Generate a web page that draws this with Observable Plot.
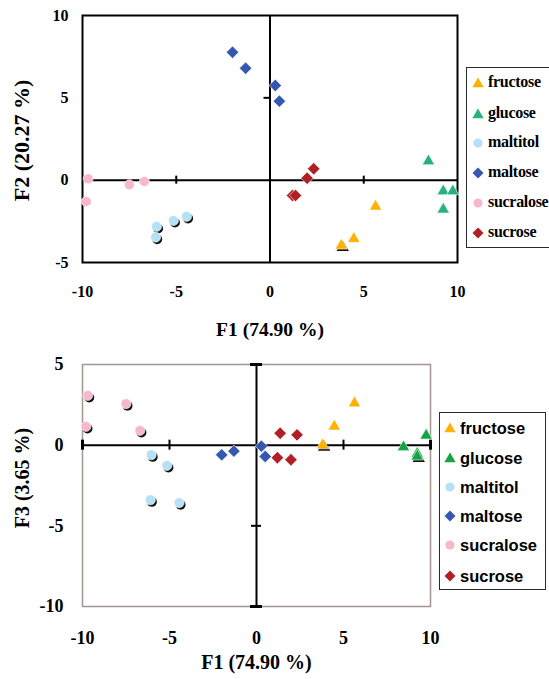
<!DOCTYPE html>
<html><head><meta charset="utf-8">
<script src="https://cdn.jsdelivr.net/npm/d3@7"></script>
<script src="https://cdn.jsdelivr.net/npm/@observablehq/plot@0.6"></script>
<style>
html,body{margin:0;padding:0;background:#fff;overflow:hidden;}
#wrap{position:relative;width:549px;height:679px;overflow:hidden;background:#fff;}
.chart{position:absolute;left:0;}
.legend{position:absolute;background:#fff;box-sizing:border-box;}
.legend .item{position:absolute;white-space:nowrap;height:20px;line-height:20px;}
.legend svg{position:absolute;overflow:visible;}
</style></head><body><div id="wrap"></div>
<script>
// ---- data ----
const sugars = ["fructose", "glucose", "maltitol", "maltose", "sucralose", "sucrose"];
const colorsTop = ["#ffb100", "#27b27a", "#b5e0f6", "#3557b0", "#f5b8cc", "#b01f25"];
const colorsBottom = ["#ffb100", "#15a347", "#b5e0f6", "#3557b0", "#f5b8cc", "#b01f25"];
const symbols = ["triangle", "triangle", "circle", "diamond2", "circle", "diamond2"];

const pointSugar = [
  "fructose", "fructose", "fructose",
  "glucose", "glucose", "glucose", "glucose",
  "maltitol", "maltitol", "maltitol", "maltitol",
  "maltose", "maltose", "maltose", "maltose",
  "sucralose", "sucralose", "sucralose", "sucralose",
  "sucrose", "sucrose", "sucrose", "sucrose"
];
const F1 = [3.8, 4.47, 5.63,  8.45, 9.24, 9.75, 9.24,  -6.05, -6.1, -5.15, -4.45,  -2.0, -1.3, 0.28, 0.5,  -9.7, -9.8, -7.5, -6.7,  2.33, 1.98, 1.2, 1.36];
const F2 = [-3.97, -3.56, -1.6,  1.15, -0.67, -0.67, -1.78,  -2.81, -3.46, -2.45, -2.2,  7.77, 6.8, 5.75, 4.8,  0.08, -1.3, -0.28, -0.08,  0.69, 0.12, -0.93, -0.93];
const F3 = [0.0, 1.16, 2.6,  -0.12, -0.53, 0.6, -0.7,  -0.6, -3.39, -1.26, -3.57,  -0.6, -0.37, -0.06, -0.7,  3.08, 1.16, 2.57, 0.91,  0.64, -0.9, -0.78, 0.74];
// points drawn with a dark duplicate underneath
const shadowTop    = [1,0,0, 0,0,0,0, 1,1,1,1, 0,0,0,0, 0,0,0,0, 0,0,0,0];
const shadowBottom = [1,0,0, 0,0,0,1, 1,1,1,1, 0,0,0,0, 1,1,1,1, 0,0,0,0];

const xTicks = [-10, -5, 0, 5, 10];
const yTicksTop = [-5, 0, 5, 10];
const yTicksBottom = [-10, -5, 0, 5];
const xLabel = "F1 (74.90 %)";
const yLabelTop = "F2 (20.27 %)";
const yLabelBottom = "F3 (3.65 %)";

// ---- build ----
const points = pointSugar.map((s, i) => ({sugar: s, f1: F1[i], f2: F2[i], f3: F3[i], shT: shadowTop[i], shB: shadowBottom[i]}));
const rSym = {triangle: 4.6, circle: 5, diamond2: 5.6};
const serif = "'Liberation Serif', 'Times New Roman', serif";
const sans = "'Liberation Sans', Arial, sans-serif";
const fmt = d => String(d);

function dots(yKey, colors, shKey) {
  const marks = [];
  sugars.forEach((s, k) => {
    const sub = points.filter(p => p.sugar === s && p[shKey]);
    if (sub.length) marks.push(Plot.dot(sub, {x: "f1", y: yKey, symbol: symbols[k], r: rSym[symbols[k]], fill: "#111", dx: 1.5, dy: 2}));
  });
  sugars.forEach((s, k) => {
    marks.push(Plot.dot(points.filter(p => p.sugar === s), {x: "f1", y: yKey, symbol: symbols[k], r: rSym[symbols[k]], fill: colors[k], stroke: "white", strokeWidth: 0.6}));
  });
  return marks;
}

const wrap = document.getElementById("wrap");

const topPlot = Plot.plot({
  width: 549, height: 340,
  marginLeft: 82, marginRight: 92, marginTop: 15, marginBottom: 78,
  x: {domain: [-10, 10]}, y: {domain: [-5, 10]},
  style: {fontFamily: serif, fontWeight: "bold", color: "black", background: "transparent", overflow: "visible"},
  marks: [
    Plot.ruleX([0], {stroke: "black", strokeWidth: 2}),
    Plot.ruleY([0], {stroke: "black", strokeWidth: 2}),
    Plot.ruleX([-5, 5], {y1: 0, y2: 0, insetTop: -4, insetBottom: -4, stroke: "black", strokeWidth: 2}),
    Plot.ruleY([5], {x1: 0, x2: 0, insetLeft: -6, stroke: "black", strokeWidth: 2}),
    Plot.frame({stroke: "black", strokeWidth: 2}),
    Plot.axisX(xTicks, {tickSize: 0, tickPadding: 23, fontSize: 16, label: null, tickFormat: fmt}),
    Plot.axisY(yTicksTop, {tickSize: 0, tickPadding: 14, fontSize: 16, label: null, tickFormat: fmt}),
    Plot.text([xLabel], {frameAnchor: "bottom", dy: 73, fontSize: 19.5, fontWeight: "bold", textAnchor: "middle"}),
    Plot.text([yLabelTop], {frameAnchor: "left", dx: -61, dy: 1.5, rotate: -90, fontSize: 22, fontWeight: "bold", textAnchor: "middle"}),
    ...dots("f2", colorsTop, "shT")
  ]
});
topPlot.classList.add("chart");
topPlot.style.top = "0px";
wrap.appendChild(topPlot);

const botPlot = Plot.plot({
  width: 549, height: 329,
  marginLeft: 82, marginRight: 119, marginTop: 14, marginBottom: 73,
  x: {domain: [-10, 10]}, y: {domain: [-10, 5]},
  style: {fontFamily: serif, fontWeight: "bold", color: "black", background: "transparent", overflow: "visible"},
  marks: [
    Plot.frame({stroke: "#a39593", strokeWidth: 1.5}),
    Plot.ruleX([0], {stroke: "black", strokeWidth: 2}),
    Plot.ruleY([0], {stroke: "black", strokeWidth: 2}),
    Plot.ruleY([5, -10], {x1: 0, x2: 0, insetLeft: -6, insetRight: -6, stroke: "black", strokeWidth: 3}),
    Plot.ruleY([-5], {x1: 0, x2: 0, insetLeft: -5, insetRight: -5, stroke: "black", strokeWidth: 2}),
    Plot.ruleX([-10, 10], {y1: 0, y2: 0, insetTop: -5, insetBottom: -5, stroke: "black", strokeWidth: 3}),
    Plot.ruleX([-5, 5], {y1: 0, y2: 0, insetTop: -5, insetBottom: -5, stroke: "black", strokeWidth: 2}),
    Plot.axisX(xTicks, {tickSize: 0, tickPadding: 25, fontSize: 18, label: null, tickFormat: fmt}),
    Plot.axisY(yTicksBottom, {tickSize: 0, tickPadding: 19, fontSize: 18, label: null, tickFormat: fmt}),
    Plot.text([xLabel], {frameAnchor: "bottom", dy: 62, fontSize: 20, fontWeight: "bold", textAnchor: "middle"}),
    Plot.text([yLabelBottom], {frameAnchor: "left", dx: -60, dy: -7.5, rotate: -90, fontSize: 20, fontWeight: "bold", textAnchor: "middle"}),
    ...dots("f3", colorsBottom, "shB")
  ]
});
botPlot.classList.add("chart");
botPlot.style.top = "350px";
wrap.appendChild(botPlot);

// ---- legends ----
const legSize = {triangle: 55, circle: 66, diamond2: 78};
function legend(cfg) {
  const box = document.createElement("div");
  box.className = "legend";
  Object.assign(box.style, {left: cfg.left + "px", top: cfg.top + "px", width: cfg.width + "px", height: cfg.height + "px", border: cfg.border, fontFamily: cfg.font, fontWeight: "bold", fontSize: cfg.fontSize + "px", letterSpacing: cfg.ls || "0px"});
  sugars.forEach((s, k) => {
    const cy = cfg.rows[k];
    const svg = d3.create("svg").attr("width", 1).attr("height", 1)
      .style("left", cfg.mx + "px").style("top", cy + "px");
    svg.append("path").attr("d", d3.symbol(d3["symbol" + (symbols[k] === "triangle" ? "Triangle" : symbols[k] === "circle" ? "Circle" : "Diamond2")], legSize[symbols[k]])())
      .attr("fill", cfg.colors[k]).attr("transform", symbols[k] === "triangle" ? "translate(0,1)" : null);
    box.appendChild(svg.node());
    const item = document.createElement("div");
    item.className = "item";
    item.textContent = s;
    item.style.left = cfg.tx + "px";
    item.style.top = (cy - 10 + (cfg.tdy || 0)) + "px";
    box.appendChild(item);
  });
  wrap.appendChild(box);
}
legend({left: 466, top: 67, width: 100, height: 181, border: "1.5px solid #2a2a2a", font: serif, fontSize: 16, ls: "-0.3px",
  rows: [15, 46, 75, 105, 135, 165], mx: 11, tx: 21, colors: colorsTop, tdy: -1});
legend({left: 439, top: 412, width: 107, height: 178, border: "1.5px solid #2a2a2a", font: sans, fontSize: 16.5,
  rows: [15, 45, 74, 103, 132, 163], mx: 10, tx: 20, colors: colorsBottom, tdy: 0});
</script></body></html>
